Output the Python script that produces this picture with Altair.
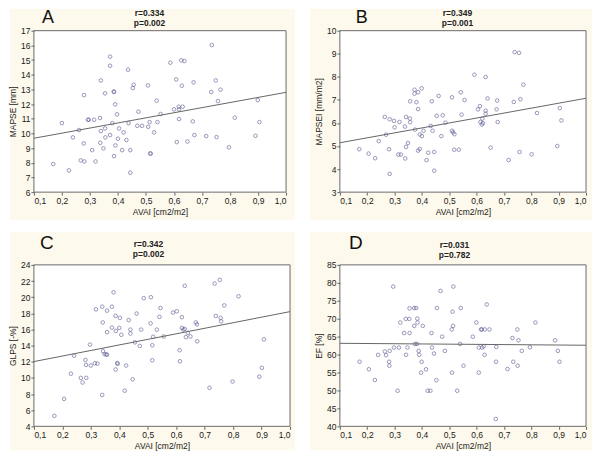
import altair as alt
import pandas as pd

FONT = "Liberation Sans"
x_ticks = [0.1, 0.2, 0.3, 0.4, 0.5, 0.6, 0.7, 0.8, 0.9, 1.0]
fit_x = [0.1, 1.0]

# Panel A: MAPSE
a_x = [0.169, 0.200, 0.225, 0.239, 0.261, 0.267, 0.279, 0.278, 0.280, 0.293, 0.296, 0.308, 0.315, 0.320,
       0.336, 0.337, 0.339, 0.339, 0.348, 0.354, 0.354, 0.355, 0.372, 0.372, 0.372, 0.380, 0.385, 0.386,
       0.386, 0.390, 0.391, 0.397, 0.400, 0.404, 0.415, 0.420, 0.430, 0.436, 0.438, 0.444, 0.444, 0.453,
       0.456, 0.469, 0.473, 0.486, 0.507, 0.508, 0.513, 0.515, 0.517, 0.529, 0.538, 0.541, 0.552, 0.587,
       0.600, 0.608, 0.610, 0.617, 0.618, 0.618, 0.626, 0.628, 0.631, 0.637, 0.648, 0.667, 0.670, 0.673,
       0.715, 0.735, 0.733, 0.749, 0.752, 0.757, 0.766, 0.796, 0.817, 0.891, 0.899, 0.905]
a_y = [7.91, 10.7, 7.48, 9.73, 10.23, 8.16, 12.61, 9.32, 8.09, 10.93, 10.93, 8.86, 10.93, 8.09,
       11.05, 9.36, 13.61, 10.16, 8.98, 12.73, 10.34, 9.73, 15.23, 14.61, 9.89, 10.7, 12.86, 12.82,
       8.45, 11.98, 9.18, 11.3, 9.64, 10.34, 8.86, 10.07, 9.55, 14.34, 10.7, 8.86, 7.32, 13.09,
       13.32, 10.52, 11.48, 10.52, 13.27, 10.45, 10.77, 8.64, 8.62, 10.07, 12.23, 10.77, 11.32, 14.82,
       11.64, 13.68, 9.41, 11.82, 11.64, 10.98, 14.98, 13.25, 11.82, 14.93, 9.45, 10.82, 13.48, 9.89,
       9.82, 16.02, 12.82, 13.61, 9.75, 12.2, 12.98, 9.05, 11.07, 9.84, 12.27, 10.77]
a_fit = [9.67, 12.8]

# Panel B: MAPSEI
b_x = [0.171, 0.205, 0.229, 0.242, 0.264, 0.269, 0.280, 0.282, 0.282, 0.298, 0.300, 0.314, 0.318, 0.323,
       0.338, 0.339, 0.342, 0.342, 0.349, 0.356, 0.357, 0.357, 0.373, 0.373, 0.375, 0.380, 0.386, 0.386,
       0.386, 0.392, 0.392, 0.399, 0.400, 0.406, 0.417, 0.423, 0.432, 0.436, 0.439, 0.445, 0.445, 0.454,
       0.461, 0.471, 0.476, 0.486, 0.510, 0.510, 0.514, 0.518, 0.519, 0.535, 0.542, 0.545, 0.556, 0.592,
       0.605, 0.612, 0.614, 0.619, 0.621, 0.623, 0.633, 0.633, 0.633, 0.640, 0.651, 0.673, 0.675, 0.677,
       0.717, 0.736, 0.739, 0.755, 0.757, 0.760, 0.771, 0.801, 0.821, 0.895, 0.904, 0.910]
b_y = [4.86, 4.67, 4.47, 5.21, 6.26, 5.49, 4.86, 6.16, 3.79, 6.09, 5.81, 4.63, 6.04, 4.63,
       5.84, 4.46, 6.26, 4.96, 5.13, 6.19, 6.94, 6.03, 7.44, 7.27, 5.71, 6.9, 7.33, 6.6,
       4.8, 5.5, 4.87, 7.5, 5.43, 5.66, 4.39, 4.71, 5.87, 6.94, 5.66, 4.74, 3.93, 6.31,
       7.17, 5.43, 6.33, 6.01, 7.11, 5.66, 5.59, 4.84, 5.51, 4.84, 7.33, 6.36, 6.99, 8.09,
       6.59, 6.73, 6.04, 5.93, 6.19, 5.99, 7.99, 6.53, 6.4, 7.06, 4.93, 6.59, 6.97, 6.04,
       4.39, 6.91, 9.07, 9.04, 4.74, 7.03, 7.66, 4.64, 6.43, 5.0, 6.64, 6.11]
b_fit = [5.14, 7.07]

# Panel C: GLPS
c_x = [0.172, 0.206, 0.230, 0.241, 0.265, 0.271, 0.281, 0.283, 0.284, 0.297, 0.300, 0.314, 0.318, 0.323,
       0.340, 0.340, 0.342, 0.343, 0.348, 0.354, 0.357, 0.357, 0.357, 0.374, 0.374, 0.380, 0.387, 0.388,
       0.387, 0.393, 0.394, 0.400, 0.402, 0.407, 0.419, 0.424, 0.433, 0.439, 0.439, 0.447, 0.455, 0.461,
       0.472, 0.477, 0.486, 0.510, 0.511, 0.516, 0.516, 0.519, 0.532, 0.541, 0.545, 0.556, 0.589, 0.602,
       0.612, 0.613, 0.620, 0.620, 0.625, 0.630, 0.630, 0.634, 0.641, 0.650, 0.669, 0.673, 0.674, 0.717,
       0.735, 0.739, 0.753, 0.756, 0.758, 0.769, 0.798, 0.819, 0.892, 0.901, 0.908]
c_y = [5.3, 7.4, 10.52, 12.75, 10.0, 9.43, 12.22, 11.61, 10.0, 14.12, 11.53, 11.81, 18.49, 11.77,
       18.82, 7.89, 16.87, 13.31, 12.95, 12.91, 15.66, 18.33, 12.87, 16.23, 18.82, 20.6, 17.68, 15.82,
       11.04, 11.85, 11.73, 16.19, 17.44, 15.34, 8.41, 11.53, 17.16, 15.98, 15.5, 9.83, 14.4, 17.97,
       13.96, 15.98, 19.87, 16.75, 19.99, 14.04, 12.18, 15.09, 15.98, 17.56, 18.66, 15.13, 18.09, 18.25,
       13.43, 12.06, 17.52, 16.19, 15.98, 21.41, 16.06, 15.05, 15.58, 15.13, 16.87, 16.63, 14.53, 8.78,
       21.69, 17.68, 22.14, 17.44, 17.0, 18.98, 9.55, 20.11, 10.15, 11.25, 14.77]
c_fit = [12.02, 18.21]

# Panel D: EF
d_x = [0.172, 0.206, 0.228, 0.240, 0.264, 0.269, 0.280, 0.281, 0.282, 0.295, 0.298, 0.311, 0.316, 0.321,
       0.335, 0.341, 0.342, 0.347, 0.354, 0.355, 0.355, 0.372, 0.379, 0.372, 0.375, 0.382, 0.383, 0.384,
       0.388, 0.390, 0.397, 0.399, 0.403, 0.415, 0.421, 0.431, 0.435, 0.437, 0.444, 0.453, 0.455, 0.468,
       0.474, 0.484, 0.509, 0.510, 0.512, 0.514, 0.515, 0.529, 0.540, 0.542, 0.552, 0.586, 0.599, 0.608,
       0.608, 0.616, 0.619, 0.620, 0.626, 0.629, 0.630, 0.637, 0.647, 0.670, 0.671, 0.672, 0.713, 0.731,
       0.734, 0.749, 0.750, 0.753, 0.765, 0.795, 0.815, 0.887, 0.897, 0.903]
d_y = [58.0, 55.9, 52.9, 59.9, 60.85, 59.84, 58.0, 56.9, 61.03, 78.94, 61.95, 49.92, 61.95, 68.93,
       65.99, 69.94, 59.93, 61.95, 69.94, 72.88, 65.99, 72.97, 72.97, 68.0, 62.96, 62.96, 70.03, 68.93,
       61.03, 59.93, 54.97, 58.0, 68.0, 55.89, 49.92, 49.92, 65.99, 61.95, 60.3, 52.86, 72.97, 77.75,
       64.98, 61.03, 67.0, 54.97, 71.96, 68.0, 78.94, 49.92, 62.96, 72.97, 56.9, 64.98, 68.93, 61.95,
       54.97, 67.0, 67.0, 61.95, 62.3, 59.93, 67.0, 73.98, 67.0, 42.03, 58.0, 62.13, 55.98, 64.6,
       58.0, 67.0, 56.9, 63.97, 61.03, 62.04, 68.93, 63.97, 61.03, 58.0]
d_fit = [63.14, 62.6]

CREAM = "#fdf9ec"
ONE = alt.Data(values=[{"k": 1}])


def panel(xs, ys, fit_y, ydom, yticks, ytitle, letter, r_txt, p_txt, W, H,
          cream, letter_pos, rp_pos):
    pts = pd.DataFrame({"x": xs, "y": ys})
    fit = pd.DataFrame({"x": fit_x, "y": fit_y})
    xsc = alt.Scale(domain=[0.1, 1.0], nice=False, zero=False)
    ysc = alt.Scale(domain=ydom, nice=False, zero=False)
    xaxis = alt.Axis(values=x_ticks, title="AVAI [cm2/m2]",
                     labelExpr="replace(format(datum.value, '.1f'), '.', ',')",
                     grid=False, domain=False, tickSize=3, tickColor="#666",
                     labelPadding=1, titlePadding=3, zindex=1,
                     labelFont=FONT, titleFont=FONT, labelFontSize=8.5, titleFontSize=8.5,
                     titleFontWeight="normal", labelColor="#1a1a1a", titleColor="#1a1a1a")
    yaxis = alt.Axis(values=yticks, title=ytitle, format="d",
                     grid=False, domain=False, tickSize=3, tickColor="#666",
                     labelPadding=1, titlePadding=3, zindex=1,
                     labelFont=FONT, titleFont=FONT, labelFontSize=8.5, titleFontSize=8.5,
                     titleFontWeight="normal", labelColor="#1a1a1a", titleColor="#1a1a1a")
    l, r, t, b = cream
    bg = alt.Chart(ONE).mark_rect(color=CREAM).encode(
        x=alt.value(l), x2=alt.value(W + r), y=alt.value(t), y2=alt.value(H + b))
    white = alt.Chart(ONE).mark_rect(color="white").encode(
        x=alt.value(0), x2=alt.value(W), y=alt.value(0), y2=alt.value(H))
    points = alt.Chart(pts).mark_point(shape="circle", filled=False, size=13,
                                       color="#5c5c92", strokeWidth=0.9).encode(
        x=alt.X("x:Q", scale=xsc, axis=xaxis),
        y=alt.Y("y:Q", scale=ysc, axis=yaxis))
    line = alt.Chart(fit).mark_line(color="#666", strokeWidth=1).encode(
        x=alt.X("x:Q", scale=xsc, axis=xaxis),
        y=alt.Y("y:Q", scale=ysc, axis=yaxis))
    frame = alt.Chart(ONE).mark_rect(filled=False, stroke="#6a6a6a", strokeWidth=1).encode(
        x=alt.value(0), x2=alt.value(W), y=alt.value(0), y2=alt.value(H))
    lx, ly, lfs = letter_pos
    let = alt.Chart(ONE).mark_text(font=FONT, fontSize=lfs, align="center",
                                   baseline="alphabetic", color="#111").encode(
        x=alt.value(lx), y=alt.value(ly), text=alt.value(letter))
    rx, ry, py = rp_pos
    rt = alt.Chart(ONE).mark_text(font=FONT, fontSize=8.5, fontWeight="bold", align="center",
                                  baseline="middle", color="#222").encode(
        x=alt.value(rx), y=alt.value(ry), text=alt.value(r_txt))
    pt = alt.Chart(ONE).mark_text(font=FONT, fontSize=8.5, fontWeight="bold", align="center",
                                  baseline="middle", color="#222").encode(
        x=alt.value(rx), y=alt.value(py), text=alt.value(p_txt))
    return alt.layer(bg, white, points, line, frame, let, rt, pt).properties(width=W, height=H)


H = 162
pa = panel(a_x, a_y, a_fit, [6, 17], list(range(6, 18)), "MAPSE [mm]", "A",
           "r=0.334", "p=0.002", 253, H, (-24, 9, -22, 28), (14, -8, 18), (116, -17.5, -8))
pb = panel(b_x, b_y, b_fit, [3, 10], list(range(3, 11)), "MAPSEI [mm/m2]", "B",
           "r=0.349", "p=0.001", 247, H, (-30, 6, -22, 28), (22, -8, 18), (118, -17.5, -8))
pc = panel(c_x, c_y, c_fit, [4, 24], list(range(4, 25, 2)), "GLPS [-%]", "C",
           "r=0.342", "p=0.002", 257, H, (-24, 5, -33, 24), (13, -16, 19), (115, -21, -11))
pd_ = panel(d_x, d_y, d_fit, [40, 85], list(range(40, 86, 5)), "EF [%]", "D",
            "r=0.031", "p=0.782", 247, H, (-30, 6, -33, 24), (16, -16, 19), (115, -20, -10))

chart = alt.concat(pa, pb, pc, pd_, columns=2, spacing={"row": 73, "column": 50},
                   bounds="flush").properties(
    padding=0, background="white"
).configure_view(stroke=None)

chart.save("out.html", embed_options={"renderer": "svg", "actions": False})
